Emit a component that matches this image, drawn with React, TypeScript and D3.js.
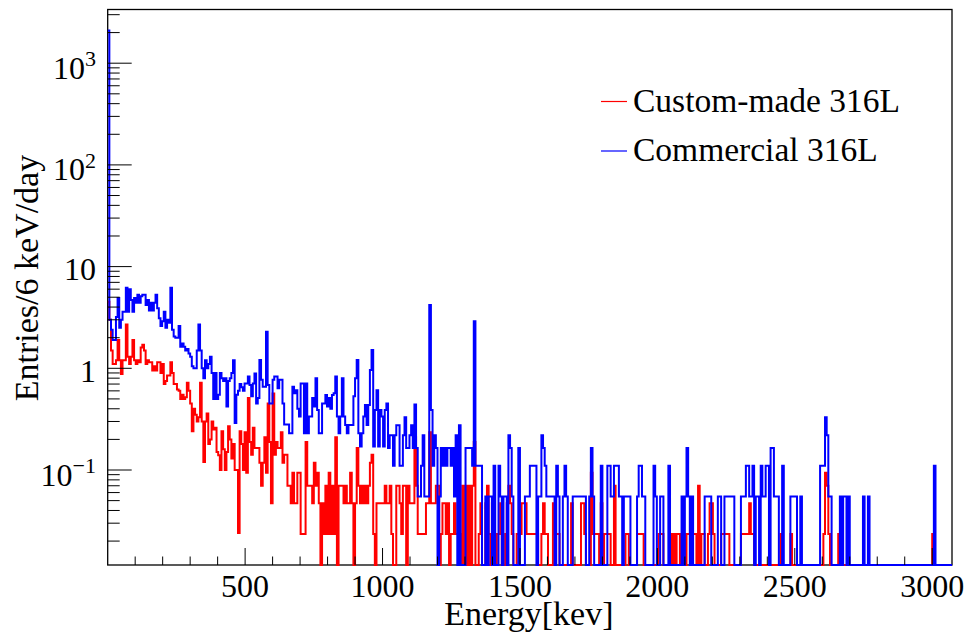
import React, { useEffect, useRef } from 'react';
import * as d3 from 'd3';

// 6 keV bins from 0 to 3072 keV
const binWidth = 6;
const energyMax = 3072;

// Entries/6 keV/day per bin (0 = empty bin)
const customMade: number[] = [
  4.5, 3.0, 1.5, 1.1, 1.1, 1.2, 1.9, 1.2, 0.88, 1.2,
  1.2, 2.7, 1.3, 1.1, 1.3, 1.9, 1.2, 1.1, 1.2, 1.15,
  1.6, 1.7, 1.5, 1.1, 1.2, 1.15, 1.15, 0.95, 1.05, 0.95,
  1.15, 1.15, 0.9, 1.1, 0.7, 0.75, 0.85, 0.85, 1.15, 0.9,
  0.7, 0.7, 0.62, 0.6, 0.5, 0.55, 0.5, 0.52, 0.72, 0.6,
  0.45, 0.24, 0.4, 0.35, 0.3, 0.33, 0.72, 0.3, 0.12, 0.3,
  0.36, 0.18, 0.2, 0.3, 0.25, 0.26, 0.15, 0.14, 0.1, 0.24,
  0.16, 0.1, 0.15, 0.27, 0.2, 0.13, 0.18, 0.1, 0.1, 0.024,
  0.24, 0.18, 0.1, 0.235, 0.094, 0.51, 0.188, 0.141, 0.26, 0.165,
  0.165, 0.165, 0.118, 0.07, 0.118, 0.21, 0.094, 0.45, 0.188, 0.047,
  0.564, 0.141, 0.188, 0.165, 0.165, 0.235, 0.118, 0.141, 0.141, 0.07,
  0.07, 0.047, 0.094, 0.047, 0.047, 0.094, 0.094, 0.0235, 0.0235, 0.0235,
  0.188, 0.07, 0.07, 0.07, 0.047, 0.118, 0.07, 0.094, 0.047, 0,
  0.047, 0.0235, 0.07, 0.0235, 0.094, 0.0235, 0.07, 0.0235, 0.21, 0,
  0.07, 0.07, 0.07, 0.047, 0.07, 0.047, 0.047, 0.094, 0.047, 0,
  0.047, 0.165, 0.07, 0.047, 0.07, 0.047, 0.07, 0.047, 0.07, 0.118,
  0.141, 0.0235, 0, 0.047, 0.047, 0.047, 0.047, 0.047, 0.07, 0.047,
  0.047, 0.07, 0.0235, 0, 0, 0.07, 0.07, 0.047, 0.0235, 0.07,
  0.07, 0, 0.07, 0.047, 0.047, 0.047, 0.21, 0.07, 0.0235, 0.0235,
  0.0235, 0.0235, 0.0235, 0.047, 0.047, 0.235, 0.047, 0.047, 0.047, 0.07,
  0.07, 0, 0.0235, 0.047, 0.047, 0.0235, 0.047, 0, 0.0235, 0.0235,
  0.047, 0.0235, 0.0235, 0.0235, 0, 0.07, 0, 0.07, 0, 0.07,
  0, 0.07, 0.188, 0, 0, 0.0235, 0.047, 0, 0, 0.047,
  0.07, 0.0235, 0, 0.047, 0.0235, 0, 0.0235, 0.0235, 0.047, 0,
  0, 0.0235, 0.047, 0.07, 0.047, 0.0235, 0, 0, 0.0235, 0.0235,
  0.0235, 0.047, 0.047, 0.047, 0.0235, 0.0235, 0.0235, 0.0235, 0.0235, 0.0235,
  0.0235, 0, 0, 0.0235, 0.047, 0.0235, 0.0235, 0, 0, 0,
  0.047, 0.0235, 0.0235, 0.0235, 0, 0, 0, 0, 0, 0,
  0, 0.047, 0, 0, 0, 0, 0, 0.047, 0.047, 0.0235,
  0, 0, 0, 0.094, 0.0235, 0.0235, 0.0235, 0.0235, 0, 0.047,
  0, 0.0235, 0.0235, 0.0235, 0.0235, 0, 0, 0.07, 0, 0,
  0, 0, 0, 0, 0.0235, 0.0235, 0, 0, 0, 0,
  0, 0.0235, 0.0235, 0.0235, 0.0235, 0, 0, 0, 0, 0,
  0, 0, 0, 0, 0.0235, 0.0235, 0.0235, 0, 0, 0,
  0, 0.0235, 0, 0.0235, 0, 0.0235, 0.0235, 0, 0.0235, 0.0235,
  0, 0.0235, 0.0235, 0.0235, 0.0235, 0.0235, 0.0235, 0, 0.07, 0,
  0.0235, 0.0235, 0, 0, 0.0235, 0.047, 0.047, 0.0235, 0, 0,
  0, 0, 0.0235, 0.0235, 0.0235, 0.0235, 0.0235, 0, 0, 0,
  0, 0, 0, 0, 0.0235, 0.0235, 0.0235, 0.0235, 0.0235, 0.047,
  0.0235, 0.0235, 0, 0, 0, 0, 0, 0, 0, 0,
  0, 0, 0, 0, 0, 0, 0, 0, 0.0235, 0,
  0, 0, 0, 0, 0.0235, 0, 0, 0, 0, 0,
  0, 0, 0, 0, 0, 0, 0, 0, 0, 0,
  0, 0, 0, 0, 0.0235, 0.094, 0.07, 0.0235, 0, 0,
  0, 0, 0, 0.0235, 0, 0, 0, 0, 0, 0,
  0, 0, 0, 0, 0, 0, 0, 0, 0, 0,
  0, 0, 0, 0, 0, 0, 0, 0, 0, 0,
  0, 0, 0, 0, 0, 0, 0, 0, 0, 0,
  0, 0, 0, 0, 0, 0, 0, 0, 0, 0,
  0, 0, 0, 0, 0, 0, 0, 0, 0, 0,
  0.0235, 0, 0, 0, 0, 0, 0, 0, 0, 0,
  0, 0,
];

const commercial: number[] = [
  2100, 3.0, 2.4, 1.9, 1.9, 3.2, 4.9, 2.5, 3.0, 3.6,
  3.6, 6.2, 3.6, 6.0, 4.7, 3.6, 4.9, 4.4, 5.3, 4.4,
  5.1, 5.3, 5.3, 4.2, 4.7, 3.7, 4.4, 3.7, 4.4, 5.3,
  3.9, 3.1, 2.6, 2.9, 3.6, 2.5, 3.0, 2.8, 6.2, 2.4,
  2.05, 2.0, 2.0, 2.6, 1.63, 1.75, 1.63, 1.5, 1.55, 1.4,
  1.3, 1.05, 1.0, 1.0, 1.5, 2.7, 1.5, 1.0, 0.8, 1.2,
  1.0, 1.1, 1.3, 0.9, 0.5, 0.9, 0.5, 0.55, 0.9, 0.8,
  0.75, 0.8, 0.42, 0.75, 0.8, 0.9, 1.2, 0.29, 0.55, 0.6,
  0.7, 0.65, 0.6, 0.71, 0.71, 0.83, 0.685, 0.53, 0.71, 0.89,
  0.45, 0.51, 1.21, 0.77, 0.66, 0.66, 2.29, 0.685, 0.45, 0.45,
  0.77, 0.83, 0.83, 0.635, 0.77, 0.77, 0.45, 0.28, 0.28, 0.28,
  0.23, 0.23, 0.66, 0.57, 0.61, 0.4, 0.335, 0.71, 0.71, 0.23,
  0.71, 0.23, 0.335, 0.335, 0.51, 0.42, 0.8, 0.39, 0.23, 0.23,
  0.45, 0.45, 0.545, 0.42, 0.51, 0.4, 0.545, 0.57, 0.83, 0.335,
  0.23, 0.335, 0.8, 0.335, 0.277, 0.23, 0.277, 0.277, 0.277, 0.53,
  0.8, 1.21, 0.23, 0.17, 0.23, 0.335, 0.435, 0.277, 0.435, 0.96,
  1.51, 0.17, 0.39, 0.61, 0.17, 0.39, 0.335, 0.17, 0.39, 0.45,
  0.165, 0.22, 0.22, 0.11, 0.22, 0.275, 0.275, 0.11, 0.11, 0.22,
  0.33, 0.165, 0.165, 0.22, 0.275, 0.165, 0.44, 0.165, 0.055, 0.055,
  0.11, 0.22, 0.055, 0.055, 0.055, 4.2, 0.39, 0.11, 0.22, 0.165,
  0, 0.055, 0.165, 0.11, 0.165, 0.11, 0.165, 0.165, 0.11, 0.165,
  0.055, 0.22, 0, 0.275, 0, 0, 0, 0.165, 0.165, 0.165,
  0.165, 0.11, 2.9, 0.11, 0.11, 0.11, 0.11, 0, 0, 0.055,
  0, 0.055, 0.055, 0, 0.11, 0, 0, 0.11, 0.055, 0,
  0.055, 0.055, 0, 0.22, 0.165, 0.055, 0, 0, 0, 0.165,
  0, 0, 0, 0.055, 0.055, 0.055, 0.11, 0.11, 0.11, 0.11,
  0, 0.055, 0.055, 0.22, 0.165, 0.11, 0.055, 0.055, 0.055, 0.055,
  0.055, 0, 0.11, 0.055, 0, 0, 0.055, 0.11, 0.055, 0,
  0, 0, 0.055, 0.055, 0.055, 0.055, 0.055, 0.055, 0.055, 0.055,
  0, 0, 0.055, 0.165, 0.055, 0, 0, 0, 0, 0.11,
  0, 0, 0, 0.11, 0.11, 0.055, 0.055, 0.11, 0.11, 0.11,
  0.055, 0.055, 0, 0.055, 0.055, 0.055, 0.055, 0, 0, 0,
  0, 0.055, 0.11, 0.11, 0.055, 0.055, 0, 0, 0, 0,
  0, 0.11, 0.055, 0, 0, 0.055, 0.055, 0, 0, 0,
  0.11, 0, 0, 0, 0, 0, 0, 0, 0.055, 0,
  0.055, 0.165, 0.055, 0, 0.055, 0, 0, 0, 0, 0,
  0, 0, 0.055, 0.055, 0.055, 0.055, 0, 0, 0, 0,
  0.055, 0.055, 0, 0, 0.055, 0.055, 0.055, 0.055, 0.055, 0.055,
  0, 0, 0, 0, 0.055, 0.055, 0.055, 0.11, 0.11, 0.055,
  0.055, 0.11, 0, 0.055, 0.055, 0, 0.11, 0.055, 0.055, 0.11,
  0.11, 0, 0.165, 0.165, 0.055, 0.055, 0.055, 0, 0, 0.11,
  0, 0, 0, 0, 0.055, 0.055, 0.055, 0.055, 0, 0,
  0.055, 0, 0, 0, 0, 0, 0, 0, 0, 0,
  0, 0, 0.11, 0.11, 0.11, 0.33, 0.22, 0.055, 0.055, 0,
  0, 0, 0, 0, 0.055, 0, 0.055, 0.055, 0, 0.055,
  0, 0, 0, 0, 0, 0, 0, 0, 0.055, 0,
  0, 0.055, 0, 0, 0, 0, 0, 0, 0, 0,
  0, 0, 0, 0, 0, 0, 0, 0, 0, 0,
  0, 0, 0, 0, 0, 0, 0, 0, 0, 0,
  0, 0, 0, 0, 0, 0, 0, 0, 0, 0,
  0, 0.11, 0, 0, 0, 0, 0, 0, 0, 0,
  0, 0,
];

const seriesNames = ['Custom-made 316L', 'Commercial 316L'];
const seriesColors = ['#ff0000', '#0000ff'];
const xTickValues = [500, 1000, 1500, 2000, 2500, 3000];
const yDecades = [-1, 0, 1, 2, 3];
const yRange = [0.01164, 3373];

const font = "'Liberation Serif', 'Times New Roman', serif";

export default function App() {
  const svgRef = useRef<SVGSVGElement>(null);

  useEffect(() => {
    const svg = d3.select(svgRef.current);
    svg.selectAll('*').remove();

    const left = 107.7, right = 952, top = 9.5, bottom = 565;

    const x = d3.scaleLinear().domain([0, energyMax]).range([left, right]);
    const y = d3.scaleLog().domain(yRange).range([bottom, top]);

    svg.append('rect').attr('width', 968).attr('height', 634).attr('fill', '#fff');

    svg.append('defs').append('clipPath').attr('id', 'frame-clip')
      .append('rect')
      .attr('x', left).attr('y', top)
      .attr('width', right - left).attr('height', bottom - top + 1.5);

    // frame
    svg.append('rect')
      .attr('x', left).attr('y', top)
      .attr('width', right - left).attr('height', bottom - top)
      .attr('fill', 'none').attr('stroke', '#000').attr('stroke-width', 1.3);

    // histograms as step lines
    const step = d3.line<[number, number]>()
      .x(d => x(d[0]))
      .y(d => (d[1] > 0 ? y(d[1]) : bottom))
      .curve(d3.curveStepAfter);

    [customMade, commercial].forEach((vals, k) => {
      const pts: [number, number][] = vals.map((v, i) => [i * binWidth, v]);
      pts.push([vals.length * binWidth, vals[vals.length - 1]]);
      svg.append('path')
        .attr('clip-path', 'url(#frame-clip)')
        .attr('d', step(pts))
        .attr('fill', 'none')
        .attr('stroke', seriesColors[k])
        .attr('stroke-width', 2)
        .attr('stroke-linejoin', 'miter');
    });

    const axes = svg.append('g').attr('stroke', '#000').attr('stroke-width', 1);

    // y ticks (log)
    for (let d = -2; d <= 3; d++) {
      for (let m = 1; m <= 9; m++) {
        const v = m * Math.pow(10, d);
        if (v < yRange[0] || v > yRange[1]) continue;
        const len = m === 1 ? 24 : 12;
        axes.append('line')
          .attr('x1', left).attr('x2', left + len)
          .attr('y1', y(v)).attr('y2', y(v));
      }
    }

    // x ticks
    for (let e = 100; e < energyMax; e += 100) {
      const len = e % 500 === 0 ? 17 : 8.5;
      axes.append('line')
        .attr('x1', x(e)).attr('x2', x(e))
        .attr('y1', bottom).attr('y2', bottom - len);
    }

    // y labels
    yDecades.forEach(p => {
      const t = svg.append('text')
        .attr('x', 96)
        .attr('text-anchor', 'end')
        .attr('font-family', font)
        .attr('font-size', 32);
      if (p === 0 || p === 1) {
        t.attr('y', y(Math.pow(10, p)) + 13.5).text(p === 0 ? '1' : '10');
      } else {
        t.attr('y', y(Math.pow(10, p)) + 15.5);
        t.append('tspan').text('10');
        t.append('tspan')
          .attr('dy', -12.5)
          .attr('font-size', 22)
          .text(p < 0 ? '\u2212' + Math.abs(p) : String(p));
      }
    });

    // x labels
    svg.selectAll('text.xl')
      .data(xTickValues)
      .enter()
      .append('text')
      .attr('class', 'xl')
      .attr('x', d => x(d))
      .attr('y', 597)
      .attr('text-anchor', 'middle')
      .attr('font-family', font)
      .attr('font-size', 32)
      .text(d => d);

    // axis titles
    svg.append('text')
      .attr('x', (left + right) / 2 - 1)
      .attr('y', 625)
      .attr('text-anchor', 'middle')
      .attr('font-family', font)
      .attr('font-size', 34)
      .text('Energy[kev]');

    svg.append('text')
      .attr('transform', 'translate(38,278) rotate(-90)')
      .attr('text-anchor', 'middle')
      .attr('font-family', font)
      .attr('font-size', 34)
      .text('Entries/6 keV/day');

    // legend
    const legend = svg.append('g');
    seriesNames.forEach((name, k) => {
      const ly = 101.5 + k * 49.5;
      legend.append('line')
        .attr('x1', 601).attr('x2', 627)
        .attr('y1', ly).attr('y2', ly)
        .attr('stroke', seriesColors[k]).attr('stroke-width', 1.2);
      legend.append('text')
        .attr('x', 633).attr('y', ly + 10.2)
        .attr('font-family', font)
        .attr('font-size', 33.5)
        .text(name);
    });
  }, []);

  return (
    <svg
      ref={svgRef}
      width={968}
      height={634}
      style={{ position: 'absolute', left: 0, top: 0 }}
    />
  );
}
